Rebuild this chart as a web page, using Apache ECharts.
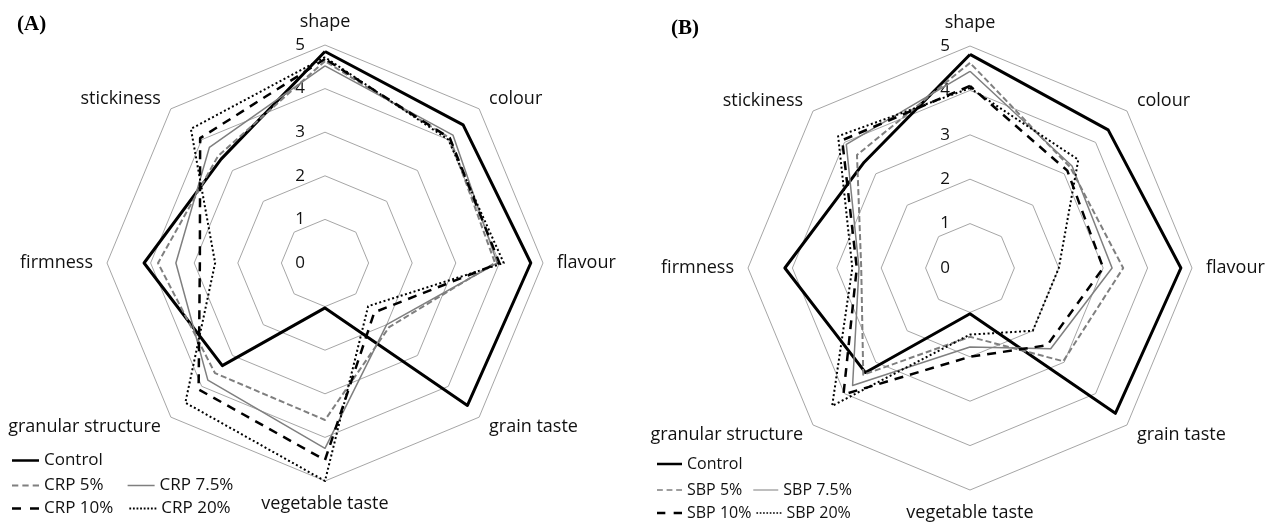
<!DOCTYPE html>
<html><head><meta charset="utf-8">
<script src="https://cdn.jsdelivr.net/npm/echarts@6/dist/echarts.min.js"></script>
<style>html,body{margin:0;padding:0;background:#fff}#c{width:1273px;height:527px}</style>
</head><body><div id="c"></div>
<script>
// ---- data ----
const categories = ['shape', 'colour', 'flavour', 'grain taste', 'vegetable taste', 'granular structure', 'firmness', 'stickiness'];
const tickLabels = ['0', '1', '2', '3', '4', '5'];
const namesA = ['Control', 'CRP 5%', 'CRP 7.5%', 'CRP 10%', 'CRP 20%'];
const namesB = ['Control', 'SBP 5%', 'SBP 7.5%', 'SBP 10%', 'SBP 20%'];

const controlA = [4.85, 4.48, 4.72, 4.62, 1.03, 3.33, 4.15, 3.37];
const crp5     = [4.63, 4.05, 3.90, 2.08, 3.60, 3.57, 3.83, 3.47];
const crp75    = [4.52, 4.15, 3.95, 2.00, 4.25, 3.80, 3.42, 3.75];
const crp10    = [4.68, 4.05, 4.00, 1.60, 4.52, 4.10, 2.87, 4.05];
const crp20    = [4.72, 4.00, 4.10, 1.40, 5.00, 4.53, 2.52, 4.35];

const controlB = [4.81, 4.40, 4.75, 4.63, 1.03, 3.33, 4.17, 3.37];
const sbp5     = [4.62, 3.20, 3.45, 2.97, 1.55, 3.40, 2.45, 3.60];
const sbp75    = [4.43, 3.25, 3.20, 2.57, 1.78, 3.74, 2.50, 3.94];
const sbp10    = [4.10, 3.10, 3.00, 2.46, 2.00, 4.03, 2.55, 4.07];
const sbp20    = [4.05, 3.45, 2.00, 2.00, 1.50, 4.39, 2.65, 4.20];

const valuesA = [controlA, crp5, crp75, crp10, crp20];
const valuesB = [controlB, sbp5, sbp75, sbp10, sbp20];

// ---- styles ----
const FONT = 'Open Sans';
const TEXT = '#111111';
const styles = [
  { color: '#000000', width: 3, type: 'solid' },
  { color: '#7f7f7f', width: 2, type: [6, 3] },
  { color: '#7f7f7f', width: 1.5, type: 'solid' },
  { color: '#000000', width: 2.5, type: [9, 7] },
  { color: '#000000', width: 2, type: [2, 2.5] }
];
const tiny = 'M0,0h0.01v0.01h-0.01zM29.99,5.99h0.01v0.01h-0.01z';
const icons = [
  'path://' + tiny + 'M0,1.5h30v3h-30z',
  'path://' + tiny + 'M0,2h7v2h-7zM11.5,2h7v2h-7zM23,2h7v2h-7z',
  'path://' + tiny + 'M0,2.3h30v1.4h-30z',
  'path://' + tiny + 'M0,1.6h10v2.8h-10zM20,1.6h10v2.8h-10z',
  'path://' + tiny + 'M0,2h2v2h-2zM4,2h2v2h-2zM8,2h2v2h-2zM12,2h2v2h-2zM16,2h2v2h-2zM20,2h2v2h-2zM24,2h2v2h-2zM28,2h2v2h-2z'
];

// ECharts places radar indicators counter-clockwise; reorder so they read clockwise
const order = [0, 7, 6, 5, 4, 3, 2, 1];
const reorder = arr => order.map(i => arr[i]);

function tickLabelStyle(show) {
  return { show: show, fontSize: 17, color: TEXT, fontFamily: FONT, margin: 20,
    formatter: v => tickLabels[Math.round(v)] };
}

function makeRadar(center, radius, nameSize) {
  return {
    center: center, radius: radius, startAngle: 90, shape: 'polygon', splitNumber: 5,
    indicator: reorder(categories).map((c, i) => {
      const ind = { name: c, min: 0, max: 5 };
      if (i === 0) ind.axisLabel = tickLabelStyle(true);
      return ind;
    }),
    axisName: { color: TEXT, fontSize: nameSize, fontFamily: FONT },
    nameGap: 14,
    axisLine: { show: false },
    axisTick: { show: false },
    splitLine: { lineStyle: { color: '#a6a6a6', width: 1 } },
    splitArea: { show: false },
    axisLabel: tickLabelStyle(false)
  };
}

function makeSeries(names, values, radarIndex) {
  return names.map((n, k) => ({
    type: 'radar', name: n, radarIndex: radarIndex, symbol: 'none', silent: true,
    z: 3 + k,
    itemStyle: { color: styles[k].color },
    lineStyle: { color: styles[k].color, width: styles[k].width, type: styles[k].type },
    data: [{ value: reorder(values[k]), name: n }]
  }));
}

function legendRow(names, idxs, left, top, gap, fontSize, itemWidth) {
  return {
    left: left, top: top, orient: 'horizontal', padding: 0, itemGap: gap,
    itemWidth: itemWidth, itemHeight: 6, selectedMode: false,
    textStyle: { fontSize: fontSize, fontFamily: FONT, color: TEXT },
    data: idxs.map(k => ({ name: names[k], icon: icons[k],
      itemStyle: { color: styles[k].color, borderWidth: 0, opacity: 1 } }))
  };
}

function panelTitle(letter, left, top) {
  return { text: '{p|(}{b|' + letter + '}{p|)}', left: left, top: top,
    textStyle: { rich: { p: { fontFamily: 'Liberation Serif', fontSize: 21, color: '#000' },
                         b: { fontFamily: 'Liberation Serif', fontSize: 21, fontWeight: 'bold', color: '#000' } } } };
}

const chart = echarts.init(document.getElementById('c'), null, { renderer: 'canvas' });
chart.setOption({
  animation: false,
  backgroundColor: '#fff',
  title: [panelTitle('A', 12, 9), panelTitle('B', 666, 13)],
  radar: [makeRadar([325, 263], 218, 18), makeRadar([970, 268], 222, 18)],
  legend: [
    legendRow(namesA, [0], 12, 452, 24, 17, 27),
    legendRow(namesA, [1, 2], 12, 477, 24, 17, 27),
    legendRow(namesA, [3, 4], 12, 500, 16, 17, 27),
    legendRow(namesB, [0], 657, 456, 11, 16, 25),
    legendRow(namesB, [1, 2], 657, 482, 11, 16, 25),
    legendRow(namesB, [3, 4], 657, 505, 5, 16, 25)
  ],
  series: makeSeries(namesA, valuesA, 0).concat(makeSeries(namesB, valuesB, 1))
});
</script></body></html>
